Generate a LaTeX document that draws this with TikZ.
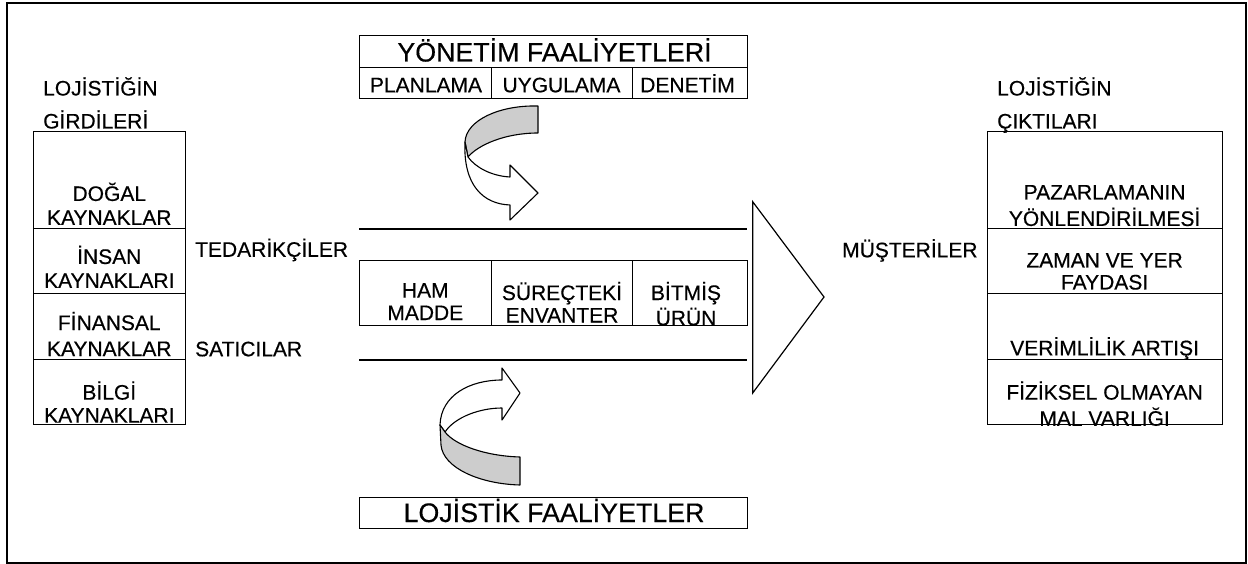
\documentclass[tikz,border=0pt]{standalone}
\usepackage{fontspec}
\setmainfont{Liberation Sans}[FakeBold=0.4]
\begin{document}
\begin{tikzpicture}[x=1pt,y=-1pt,
  frame/.style={line width=2pt},
  cell/.style={draw, line width=1pt},
  rule/.style={line width=2pt},
  ribbon/.style={draw, line width=1.1pt, line join=round},
  shade/.style={ribbon, fill={rgb,255:red,205;green,205;blue,205}},
  ml/.style={inner sep=0pt, anchor=north, align=center, font=\fontsize{21}{#1}\selectfont},
  one/.style={inner sep=0pt, font=\fontsize{21}{24}\selectfont},
  big/.style={inner sep=0pt, anchor=base, font=\fontsize{26.8}{30}\selectfont}
]
% page and outer frame
\fill[white] (0,0) rectangle (1248,564);
\draw[frame] (7,3) rectangle (1246,562.7);

% input column
\draw[cell] (33.3,131.7) rectangle (185.3,424.3);
\draw[cell] (33.3,228.3) -- (185.3,228.3);
\draw[cell] (33.3,293.3) -- (185.3,293.3);
\draw[cell] (33.3,359.3) -- (185.3,359.3);

% output column
\draw[cell] (987.3,131.7) rectangle (1222,424.3);
\draw[cell] (987.3,228.3) -- (1222,228.3);
\draw[cell] (987.3,293.3) -- (1222,293.3);
\draw[cell] (987.3,359.3) -- (1222,359.3);

% management activities
\draw[cell] (359.3,35.7) rectangle (747.3,99);
\draw[cell] (359.3,67.7) -- (747.3,67.7);
\draw[cell] (491.7,67.7) -- (491.7,99);
\draw[cell] (632.3,67.7) -- (632.3,99);

% inventory cells
\draw[cell] (359.3,261) rectangle (747.3,325);
\draw[cell] (491.7,261) -- (491.7,325);
\draw[cell] (632.7,261) -- (632.7,325);

% logistics activities
\draw[cell] (359.3,497) rectangle (747.3,528);

% channel rules
\draw[rule] (359.3,229.2) -- (747.3,229.2);
\draw[rule] (359.3,360) -- (747.3,360);

% flow triangle
\draw[line width=1.2pt, line join=miter] (752.7,201.7) -- (824,297) -- (752.7,393) -- cycle;

% upper curved arrow
\draw[shade] (538,106) .. controls (500,105) and (466,120) .. (465,142)
  -- (468,157) .. controls (478,145) and (505,133) .. (538,133) -- cycle;
\draw[ribbon, fill=white] (465,142) .. controls (463,185) and (483,204) .. (510,205)
  -- (510,220) -- (538,193) -- (510,165) -- (510,177)
  .. controls (492,176) and (476,168) .. (468,157) -- cycle;

% lower curved arrow
\draw[ribbon, fill=white] (502,380) .. controls (470,380) and (441,395) .. (440,425)
  -- (445,432) .. controls (455,417) and (480,408) .. (502,408)
  -- (502,420) -- (520,393) -- (502,368) -- cycle;
\draw[shade] (440,425) -- (441,445) .. controls (443,468) and (480,484) .. (520,485)
  -- (520,457) .. controls (485,456) and (455,445) .. (445,432) -- cycle;

% labels
\node[ml=33, align=left, anchor=north west] (inhead) at (43,72.2) {LOJİSTİĞİN\strut\\GİRDİLERİ\strut};
\node[ml=24] (natural) at (109.3,182.5) {DOĞAL\strut\\KAYNAKLAR\strut};
\node[ml=24] (human) at (109.3,245.5) {İNSAN\strut\\KAYNAKLARI\strut};
\node[ml=26] (finance) at (109.3,311.6) {FİNANSAL\strut\\KAYNAKLAR\strut};
\node[ml=23] (info) at (109.3,381.2) {BİLGİ\strut\\KAYNAKLARI\strut};

\node[one, anchor=base west] (suppliers) at (195,256.8) {TEDARİKÇİLER};
\node[one, anchor=base west] (sellers) at (195,356.3) {SATICILAR};
\node[one, anchor=base west] (customers) at (842,257.3) {MÜŞTERİLER};

\node[ml=33, align=left, anchor=north west] (outhead) at (997,72.2) {LOJİSTİĞİN\strut\\ÇIKTILARI\strut};
\node[ml=24] (marketing) at (1104.6,182.5) {PAZARLAMANIN\strut\\YÖNLENDİRİLMESİ\strut};
\node[ml=22] (utility) at (1104.6,251.9) {ZAMAN VE YER\strut\\FAYDASI\strut};
\node[one, anchor=base] (efficiency) at (1104.6,355.3) {VERİMLİLİK ARTIŞI};
\node[ml=23] (intangible) at (1104.6,381.2) {FİZİKSEL OLMAYAN\strut\\MAL VARLIĞI\strut};

\node[big] (mgmt) at (554.5,61.5) {YÖNETİM FAALİYETLERİ};
\node[one, anchor=base] (plan) at (426,92.3) {PLANLAMA};
\node[one, anchor=base] (apply) at (561.5,92.3) {UYGULAMA};
\node[one, anchor=base] (control) at (687.5,92.3) {DENETİM};

\node[ml=22.5] (raw) at (425.3,281.6) {HAM\strut\\MADDE\strut};
\node[ml=22.5] (wip) at (562,281.6) {SÜREÇTEKİ\strut\\ENVANTER\strut};
\node[ml=22.5] (finished) at (686,281.6) {BİTMİŞ\strut\\ÜRÜN\strut};

\node[big] (logact) at (554,522) {LOJİSTİK FAALİYETLER};
\end{tikzpicture}
\end{document}
